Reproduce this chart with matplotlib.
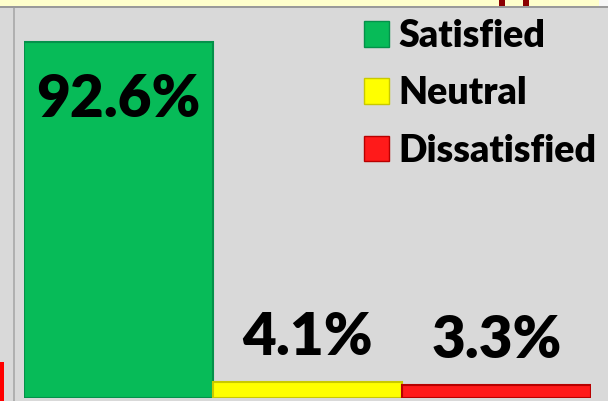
import matplotlib.pyplot as plt
from matplotlib.patches import Rectangle, Patch

# Survey results
categories = ['Satisfied', 'Neutral', 'Dissatisfied']
values = [92.6, 4.1, 3.3]
labels = ['92.6%', '4.1%', '3.3%']

face_colors = ['#07bb58', '#ffff00', '#ff1a1a']
edge_colors = ['#04914a', '#c9c900', '#b80000']

W, H = 608, 401
fig = plt.figure(figsize=(W / 100, H / 100), dpi=100)
fig.patch.set_facecolor('#d9d9d9')

def px_rect(x0, y0, x1, y1, color):
    # rectangle in pixel coords, y measured from top
    fig.add_artist(Rectangle((x0 / W, 1 - y1 / H), (x1 - x0) / W, (y1 - y0) / H,
                             transform=fig.transFigure, facecolor=color,
                             edgecolor='none', zorder=0))

# surrounding worksheet bits
px_rect(0, 0, 599, 6, '#ffffcc')
px_rect(599, 0, 608, 6, '#f7f7f7')
px_rect(0, 6, 608, 8, '#9a9a9a')
px_rect(13, 8, 15, 401, '#b0b0b0')
px_rect(0, 362, 4, 401, '#ff0000')
px_rect(499, 0, 505, 6, '#8b0000')
px_rect(523, 0, 529, 6, '#8b0000')

ax = fig.add_axes([24 / W, 3 / H, 567 / W, 390 / H])
ax.set_facecolor('none')
ax.bar(range(len(values)), values, width=1.0, color=face_colors,
       edgecolor=edge_colors, linewidth=1.5)
ax.set_xlim(-0.5, 2.5)
ax.set_ylim(0, 390 / 3.845)
ax.axis('off')

plt.rcParams['font.family'] = ['Lato', 'DejaVu Sans']

for i, (v, lab) in enumerate(zip(values, labels)):
    y = v - 19.5 if v > 50 else v + 7.2
    ax.text(i, y, lab, ha='center', va='baseline', fontsize=42,
            fontweight='heavy', color='black')

handles = [Patch(facecolor=c, edgecolor=e, linewidth=1) for c, e in zip(face_colors, edge_colors)]
ax.legend(handles, categories, loc='upper left', bbox_to_anchor=(364 / W, 1 - 19 / H),
          bbox_transform=fig.transFigure, frameon=False, borderpad=0, borderaxespad=0,
          prop={'family': 'Lato', 'weight': 'heavy', 'size': 27},
          handlelength=0.67, handleheight=0.67, handletextpad=0.25, labelspacing=0.62)

fig.savefig('out.png', dpi=100, facecolor=fig.get_facecolor())
